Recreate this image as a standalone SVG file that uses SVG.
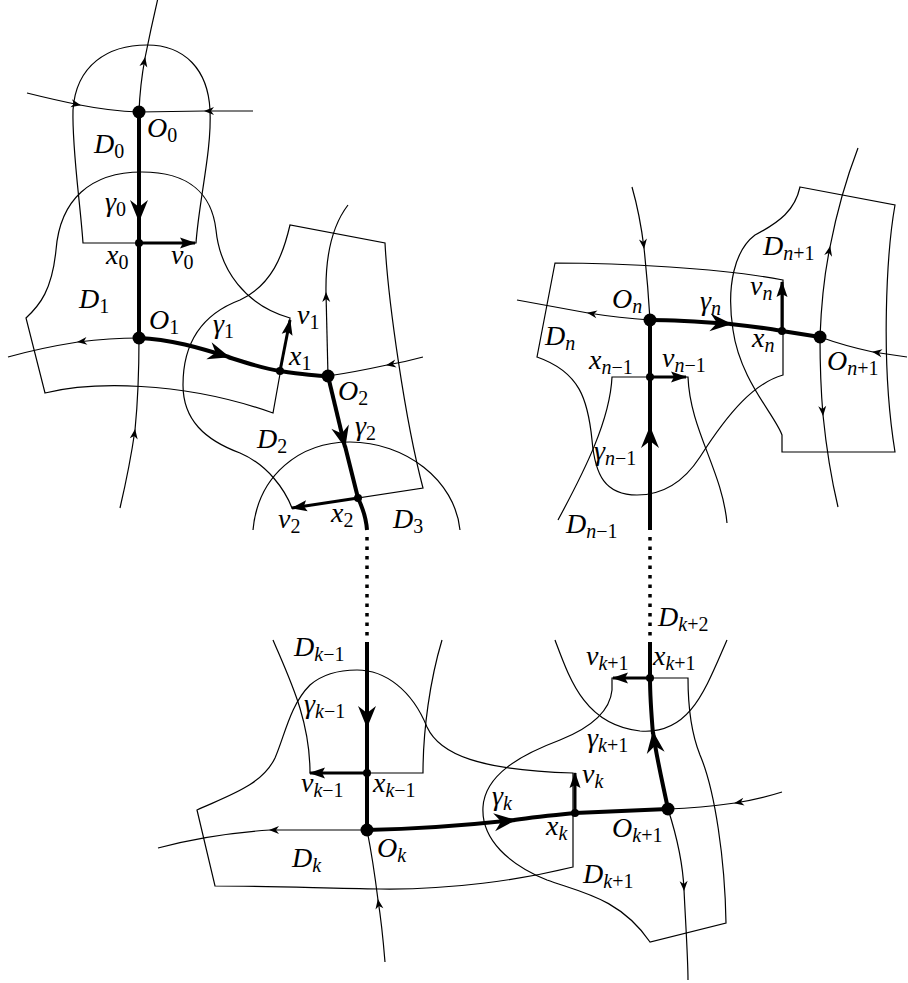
<svg xmlns="http://www.w3.org/2000/svg" width="908" height="983" viewBox="0 0 908 983">
<defs>
<style>
.t{fill:none;stroke:#000;stroke-width:1.2}
.g{fill:none;stroke:#000;stroke-width:4}
.v{fill:none;stroke:#000;stroke-width:3}
.d{fill:none;stroke:#000;stroke-width:3.5;stroke-dasharray:3.5 6}
.fa{marker-end:url(#fa)}
.ga{marker-end:url(#ga)}
.va{marker-end:url(#va)}
.lb text{font-size:28px;fill:#000}
.s{font-size:20px;font-style:normal}
.i{font-style:italic}
</style>
<marker id="fa" markerUnits="userSpaceOnUse" orient="auto" overflow="visible" markerWidth="1" markerHeight="1"><path d="M1,0 L-9,-4 L-6,0 L-9,4 Z" fill="#000"/></marker>
<marker id="ga" markerUnits="userSpaceOnUse" orient="auto" overflow="visible" markerWidth="1" markerHeight="1"><path d="M1,0 L-21,-9 L-14,0 L-21,9 Z" fill="#000"/></marker>
<marker id="va" markerUnits="userSpaceOnUse" orient="auto" overflow="visible" markerWidth="1" markerHeight="1"><path d="M1,0 L-15,-5.5 L-12,0 L-15,5.5 Z" fill="#000"/></marker>
</defs>
<rect width="908" height="983" fill="#fff"/>

<g id="domains">
<path id="D0" class="t" d="M83,243 L196,243 C199,200 212,150 210,110 C208,70 185,45 147,45 C108,45 76,65 73,110 C72,150 80,200 83,243 Z"/>
<path id="D1" class="t" d="M26,318 C40,305 52,290 56,250 C60,200 90,172 142,172 C190,172 212,195 216,230 C220,270 245,305 290,318 L273,413 C180,380 90,382 45,393 Z"/>
<path id="D2" class="t" d="M290,225 C283,255 272,285 240,300 C200,315 183,345 183,385 C183,420 205,440 240,453 C268,465 285,490 292,508 L423,488 C405,420 388,300 385,243 Z"/>
<path id="D3" class="t" d="M253,530 C258,475 300,442 350,442 C405,442 455,480 460,530"/>
<path id="Dn" class="t" d="M555,263 C620,263 720,268 783,280 L783,375 C755,383 730,410 700,457 C685,480 665,495 637,495 C605,495 595,475 592,440 C588,400 580,372 537,357 Z"/>
<path id="Dn-1" class="t" d="M558,520 C585,470 610,420 612,377 L688,377 C690,430 722,470 727,523"/>
<path id="Dn+1" class="t" d="M800,187 L895,205 C887,250 880,360 895,452 L782,452 L782,435 C775,415 740,380 733,330 C726,285 735,250 755,235 C780,222 795,210 800,187 Z"/>
<path id="Dk-1" class="t" d="M273,640 C290,680 310,720 310,773 L423,773 C423,730 430,680 442,640"/>
<path id="Dk" class="t" d="M197,810 C230,795 262,785 275,758 C285,735 290,705 310,685 C325,672 345,670 357,670 C385,670 412,690 427,727 C440,755 480,770 573,773 L573,867 C520,880 450,890 380,889 C320,888 260,886 215,886 Z"/>
<path id="Dk+1" class="t" d="M612,678 L612,690 C610,712 590,728 560,740 C520,755 485,775 483,807 C481,840 510,865 547,880 C580,892 620,898 650,942 L726,923 C725,860 715,790 700,755 C690,730 688,700 688,678 Z"/>
<path id="Dk+2" class="t" d="M555,640 C570,680 585,725 640,731 C690,735 705,690 727,640"/>
</g>

<g id="connectors">
<path class="t fa" d="M139,112 Q140,85 145,58"/><path class="t" d="M145,58 Q151,28 158,-2"/>
<path class="t fa" d="M27,93 Q55,100 80,105"/><path class="t" d="M80,105 Q110,111 139,112"/>
<path class="t fa" d="M253,111 L205,111"/><path class="t" d="M205,111 L139,112"/>
<path class="t fa" d="M139,338 Q110,338 78,342"/><path class="t" d="M78,342 Q40,348 8,357"/>
<path class="t fa" d="M120,508 Q130,465 135,430"/><path class="t" d="M135,430 Q139,390 139,338"/>
<path class="t fa" d="M328,376 Q327,330 326,293"/><path class="t" d="M326,293 Q325,235 348,205"/>
<path class="t fa" d="M423,357 Q405,362 387,365"/><path class="t" d="M387,365 Q355,372 328,376"/>
<path class="t fa" d="M632,187 Q640,215 644,248"/><path class="t" d="M644,248 Q648,285 650,320"/>
<path class="t fa" d="M650,320 Q620,318 588,313"/><path class="t" d="M588,313 Q550,306 517,300"/>
<path class="t fa" d="M820,337 Q822,285 830,247"/><path class="t" d="M830,247 Q840,195 858,148"/>
<path class="t fa" d="M820,337 Q820,380 823,415"/><path class="t" d="M823,415 Q828,465 838,507"/>
<path class="t fa" d="M907,357 L873,352"/><path class="t" d="M873,352 Q845,346 820,337"/>
<path class="t fa" d="M367,830 L270,830"/><path class="t" d="M270,830 Q210,834 158,848"/>
<path class="t fa" d="M385,962 Q382,925 378,900"/><path class="t" d="M378,900 Q373,860 367,830"/>
<path class="t fa" d="M782,792 Q760,799 735,803"/><path class="t" d="M735,803 Q700,808 668,809"/>
<path class="t fa" d="M668,809 C678,840 683,865 684,890"/><path class="t" d="M684,890 C686,930 688,960 688,980"/>

<path class="g ga" d="M139,112 L139,221"/><path class="g" d="M139,219 L139,338"/>
<path class="g ga" d="M139,338 C170,339 200,348 229,357"/><path class="g" d="M228,357 C250,364 265,369 280,371 C300,374 315,376 328,376"/>
<path class="g ga" d="M328,376 L345,447"/><path class="g" d="M345,446 L358,498 Q366,515 367,530"/>
<path class="d" d="M367,537 L367,640"/>
<path class="g ga" d="M650,530 L650,427"/><path class="g" d="M650,429 L650,320"/>
<path class="g ga" d="M650,320 C680,320 705,322 731,324"/><path class="g" d="M730,324 C750,326 765,328 782,331 L820,337"/>
<path class="d" d="M650,537 L650,640"/>
<path class="g ga" d="M367,642 L367,727"/><path class="g" d="M367,725 L367,830"/>
<path class="g ga" d="M367,830 C420,829 470,825 515,820"/><path class="g" d="M514,820 C535,817 555,815 575,813 L668,809"/>
<path class="g ga" d="M668,809 C662,780 656,755 653,732"/><path class="g" d="M653,734 C651,710 650,695 650,678 L650,642"/>

<path class="v va" d="M139,243 L195,243"/>
<path class="v va" d="M280,371 L290,320"/>
<path class="v va" d="M358,498 L292,508"/>
<path class="v va" d="M650,377 L686,377"/>
<path class="v va" d="M782,331 L782,282"/>
<path class="v va" d="M367,773 L310,773"/>
<path class="v va" d="M575,813 L575,773"/>
<path class="v va" d="M650,678 L613,678"/>
</g>

<g id="points">
<circle cx="139" cy="112" r="6.5"/>
<circle cx="139" cy="338" r="6.5"/>
<circle cx="328" cy="376" r="6.5"/>
<circle cx="650" cy="320" r="6.5"/>
<circle cx="820" cy="337" r="6.5"/>
<circle cx="367" cy="830" r="6.5"/>
<circle cx="668" cy="809" r="6.5"/>
<circle cx="139" cy="243" r="4"/>
<circle cx="280" cy="371" r="4"/>
<circle cx="358" cy="498" r="4"/>
<circle cx="650" cy="377" r="4"/>
<circle cx="782" cy="331" r="4"/>
<circle cx="367" cy="773" r="4"/>
<circle cx="575" cy="813" r="4"/>
<circle cx="650" cy="678" r="4"/>
</g>

<g id="labels" class="lb" font-family="'Liberation Serif', 'DejaVu Serif', serif" font-style="italic">
<text x="147" y="137">O<tspan class="s" dy="5">0</tspan></text>
<text x="94" y="153">D<tspan class="s" dy="5">0</tspan></text>
<text x="105" y="211">γ<tspan class="s" dy="5">0</tspan></text>
<text x="106" y="264">x<tspan class="s" dy="5">0</tspan></text>
<text x="171" y="264">v<tspan class="s" dy="5">0</tspan></text>
<text x="79" y="308">D<tspan class="s" dy="5">1</tspan></text>
<text x="149" y="329">O<tspan class="s" dy="5">1</tspan></text>
<text x="213" y="333">γ<tspan class="s" dy="5">1</tspan></text>
<text x="297" y="324">v<tspan class="s" dy="5">1</tspan></text>
<text x="289" y="365">x<tspan class="s" dy="5">1</tspan></text>
<text x="338" y="400">O<tspan class="s" dy="5">2</tspan></text>
<text x="355" y="435">γ<tspan class="s" dy="5">2</tspan></text>
<text x="257" y="448">D<tspan class="s" dy="5">2</tspan></text>
<text x="331" y="522">x<tspan class="s" dy="5">2</tspan></text>
<text x="278" y="528">v<tspan class="s" dy="5">2</tspan></text>
<text x="393" y="528">D<tspan class="s" dy="5">3</tspan></text>

<text x="763" y="255">D<tspan class="s" dy="5"><tspan class="i">n</tspan>+1</tspan></text>
<text x="750" y="295">v<tspan class="s i" dy="5">n</tspan></text>
<text x="612" y="308">O<tspan class="s i" dy="5">n</tspan></text>
<text x="700" y="310">γ<tspan class="s i" dy="5">n</tspan></text>
<text x="545" y="345">D<tspan class="s i" dy="5">n</tspan></text>
<text x="752" y="347">x<tspan class="s i" dy="5">n</tspan></text>
<text x="827" y="370">O<tspan class="s" dy="5"><tspan class="i">n</tspan>+1</tspan></text>
<text x="589" y="369">x<tspan class="s" dy="5"><tspan class="i">n</tspan>−1</tspan></text>
<text x="662" y="367">v<tspan class="s" dy="5"><tspan class="i">n</tspan>−1</tspan></text>
<text x="594" y="460">γ<tspan class="s" dy="5"><tspan class="i">n</tspan>−1</tspan></text>
<text x="566" y="533">D<tspan class="s" dy="5"><tspan class="i">n</tspan>−1</tspan></text>

<text x="294" y="656">D<tspan class="s" dy="5"><tspan class="i">k</tspan>−1</tspan></text>
<text x="304" y="713">γ<tspan class="s" dy="5"><tspan class="i">k</tspan>−1</tspan></text>
<text x="301" y="792">v<tspan class="s" dy="5"><tspan class="i">k</tspan>−1</tspan></text>
<text x="373" y="792">x<tspan class="s" dy="5"><tspan class="i">k</tspan>−1</tspan></text>
<text x="492" y="805">γ<tspan class="s i" dy="5">k</tspan></text>
<text x="377" y="857">O<tspan class="s i" dy="5">k</tspan></text>
<text x="292" y="867">D<tspan class="s i" dy="5">k</tspan></text>
<text x="658" y="626">D<tspan class="s" dy="5"><tspan class="i">k</tspan>+2</tspan></text>
<text x="586" y="665">v<tspan class="s" dy="5"><tspan class="i">k</tspan>+1</tspan></text>
<text x="653" y="665">x<tspan class="s" dy="5"><tspan class="i">k</tspan>+1</tspan></text>
<text x="587" y="747">γ<tspan class="s" dy="5"><tspan class="i">k</tspan>+1</tspan></text>
<text x="582" y="783">v<tspan class="s i" dy="5">k</tspan></text>
<text x="546" y="835">x<tspan class="s i" dy="5">k</tspan></text>
<text x="612" y="837">O<tspan class="s" dy="5"><tspan class="i">k</tspan>+1</tspan></text>
<text x="583" y="883">D<tspan class="s" dy="5"><tspan class="i">k</tspan>+1</tspan></text>
</g>
</svg>
